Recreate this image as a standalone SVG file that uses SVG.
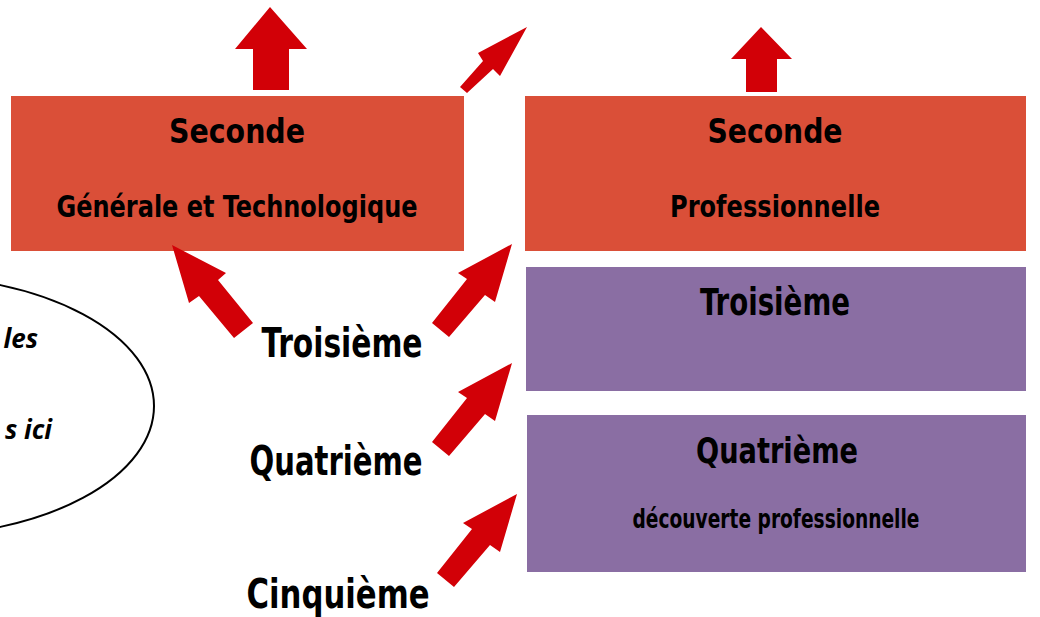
<svg xmlns="http://www.w3.org/2000/svg" width="1040" height="617" viewBox="0 0 1040 617">
<style>
.red{fill:#DA4F38}
.pur{fill:#8A6EA3}
.arr{fill:#D20007}
.t{font-family:"DejaVu Sans Condensed","DejaVu Sans","Liberation Sans",sans-serif;font-weight:bold;fill:#000;text-anchor:middle;font-stretch:condensed}
.big{font-size:41px}
.it{font-family:"Open Sans","Liberation Sans",sans-serif;font-style:italic;font-weight:bold;font-size:26px;text-anchor:end}
</style>
<rect width="1040" height="617" fill="#fff"/>
<g id="ellipse">
<ellipse cx="-89" cy="406" rx="243" ry="130" fill="none" stroke="#000" stroke-width="2"/>
<text class="it" x="38" y="348">les</text>
<text class="it" x="52" y="439">s ici</text>
</g>
<g id="seconde-gt">
<rect class="red" x="11" y="96" width="453" height="155"/>
<text class="t" font-size="34" x="237" y="143" textLength="136" lengthAdjust="spacingAndGlyphs">Seconde</text>
<text class="t" font-size="30" x="237" y="217" textLength="361" lengthAdjust="spacingAndGlyphs">Générale et Technologique</text>
</g>
<g id="seconde-pro">
<rect class="red" x="525" y="96" width="501" height="155"/>
<text class="t" font-size="34" x="775" y="143" textLength="135" lengthAdjust="spacingAndGlyphs">Seconde</text>
<text class="t" font-size="30" x="775" y="217" textLength="210" lengthAdjust="spacingAndGlyphs">Professionnelle</text>
</g>
<g id="troisieme-box">
<rect class="pur" x="526" y="267" width="500" height="124"/>
<text class="t" font-size="37" x="775" y="315" textLength="150" lengthAdjust="spacingAndGlyphs">Troisième</text>
</g>
<g id="quatrieme-box">
<rect class="pur" x="527" y="415" width="499" height="157"/>
<text class="t" font-size="36" x="777" y="463" textLength="162" lengthAdjust="spacingAndGlyphs">Quatrième</text>
<text class="t" font-size="27" x="776" y="528" textLength="287" lengthAdjust="spacingAndGlyphs">découverte professionnelle</text>
</g>
<g id="troisieme">
<text class="t big" x="342" y="357" textLength="161" lengthAdjust="spacingAndGlyphs">Troisième</text>
</g>
<g id="quatrieme">
<text class="t big" x="336" y="475" textLength="173" lengthAdjust="spacingAndGlyphs">Quatrième</text>
</g>
<g id="cinquieme">
<text class="t big" x="338" y="608" textLength="183" lengthAdjust="spacingAndGlyphs">Cinquième</text>
</g>
<g id="connectors">
<polygon class="arr" points="270,7 307,49 289,49 289,90 253,90 253,49 235,49"/>
<polygon class="arr" points="761,27 792,59 777,59 777,92 746,92 746,59 731,59"/>
<polygon class="arr" points="527,27 500,76 493,69 467,93 460,87 483,61 478,53"/>
<polygon class="arr" points="172,245 226,273 218,280 253,323 234,338 199,296 189,303"/>
<polygon class="arr" points="512,244 495,302 485,295 449,337 432,323 467,279 458,273"/>
<polygon class="arr" points="512,363 495,421 485,414 449,456 432,442 467,398 458,392"/>
<polygon class="arr" points="517,494 500,552 490,545 454,587 437,573 472,529 463,523"/>
</g>
</svg>
